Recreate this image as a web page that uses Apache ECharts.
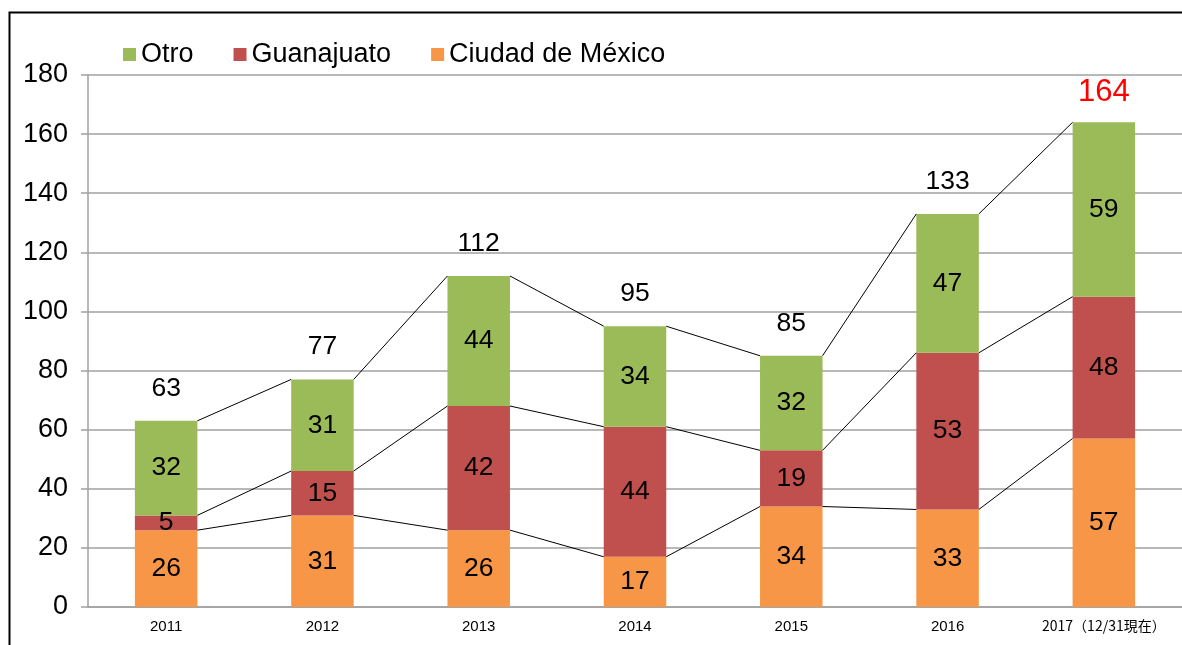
<!DOCTYPE html>
<html>
<head>
<meta charset="utf-8">
<script src="https://cdn.jsdelivr.net/npm/echarts@6/dist/echarts.min.js"></script>
<style>
html,body{margin:0;padding:0;background:#fff;}
#c{width:1182px;height:645px;}
</style>
</head>
<body>
<div id="c"></div>
<script>
var categories = ['2011', '2012', '2013', '2014', '2015', '2016', '2017（12/31現在）'];
var ciudad = [26, 31, 26, 17, 34, 33, 57];
var guanajuato = [5, 15, 42, 44, 19, 53, 48];
var otro = [32, 31, 44, 34, 32, 47, 59];
var yTicks = { min: 0, max: 180, interval: 20 };

var totals = categories.map(function (_, i) { return ciudad[i] + guanajuato[i] + otro[i]; });
var level1 = ciudad.slice();
var level2 = ciudad.map(function (v, i) { return v + guanajuato[i]; });
var level3 = totals.slice();

var lineData = [];
[level1, level2, level3].forEach(function (lv) {
  for (var i = 0; i < lv.length - 1; i++) {
    lineData.push([i, lv[i], i + 1, lv[i + 1]]);
  }
});

var chart = echarts.init(document.getElementById('c'), null, { renderer: 'canvas' });
var FONT = 'Liberation Sans, Arial, sans-serif';
var FS = 26.5;
var segLabel = { show: true, position: 'inside', color: '#000', fontSize: FS, fontFamily: FONT };

chart.setOption({
  animation: false,
  backgroundColor: '#fff',
  graphic: [{
    type: 'rect', left: 7, top: 10, shape: { width: 1300, height: 800 },
    style: { fill: 'none', stroke: '#000', lineWidth: 2 }, z: 100, silent: true
  }],
  legend: {
    data: ['Otro', 'Guanajuato', 'Ciudad de México'],
    left: 118, top: 36,
    itemWidth: 13, itemHeight: 13, itemGap: 40,
    icon: 'rect',
    textStyle: { fontSize: 27, fontFamily: FONT, color: '#000' }
  },
  grid: { left: 88, right: 0, top: 75, bottom: 38, containLabel: false },
  xAxis: {
    type: 'category', data: categories,
    axisLine: { lineStyle: { color: '#a0a0a0', width: 1.5 } },
    axisTick: { show: false },
    axisLabel: {
      margin: 12, color: '#000', fontSize: 15, interval: 0,
      fontFamily: 'Liberation Sans, Noto Sans CJK JP, sans-serif',
      formatter: function (v, i) { return i === categories.length - 1 ? '{j|' + v + '}' : v; },
      rich: { j: { fontFamily: 'Noto Sans CJK JP', fontSize: 14, color: '#000' } }
    }
  },
  yAxis: {
    type: 'value', min: yTicks.min, max: yTicks.max, interval: yTicks.interval,
    axisLine: { show: true, lineStyle: { color: '#a0a0a0', width: 1.5 } },
    axisTick: { show: true, length: 7, lineStyle: { color: '#a0a0a0', width: 1.5 } },
    splitLine: { lineStyle: { color: '#a0a0a0', width: 1.5 } },
    axisLabel: { margin: 20, color: '#000', fontSize: 27, fontFamily: FONT }
  },
  series: [
    { name: 'Ciudad de México', type: 'bar', stack: 's', barWidth: '40%', data: ciudad,
      itemStyle: { color: '#F79646' }, label: segLabel },
    { name: 'Guanajuato', type: 'bar', stack: 's', barWidth: '40%', data: guanajuato,
      itemStyle: { color: '#C0504D' }, label: segLabel },
    { name: 'Otro', type: 'bar', stack: 's', barWidth: '40%', data: otro,
      itemStyle: { color: '#9BBB59' }, label: segLabel },
    {
      name: 'lines', type: 'custom', data: lineData, z: 5, silent: true,
      encode: { x: [0, 2], y: [1, 3] },
      renderItem: function (params, api) {
        var bw = api.size([1, 0])[0] * 0.4;
        var p1 = api.coord([api.value(0), api.value(1)]);
        var p2 = api.coord([api.value(2), api.value(3)]);
        return {
          type: 'line',
          shape: { x1: p1[0] + bw / 2, y1: p1[1], x2: p2[0] - bw / 2, y2: p2[1] },
          style: { stroke: '#000', lineWidth: 1 }
        };
      }
    },
    {
      name: 'totals', type: 'custom', silent: true, z: 6,
      data: totals.map(function (v, i) { return [i, v]; }),
      renderItem: function (params, api) {
        var p = api.coord([api.value(0), api.value(1)]);
        var last = params.dataIndex === totals.length - 1;
        return {
          type: 'text',
          x: p[0], y: p[1] - (last ? 14 : 19),
          style: {
            text: String(api.value(1)),
            fill: last ? '#ff0000' : '#000000',
            fontSize: last ? 31 : FS,
            fontFamily: FONT,
            align: 'center', verticalAlign: 'bottom', opacity: 1
          }
        };
      }
    }
  ]
});
</script>
</body>
</html>
